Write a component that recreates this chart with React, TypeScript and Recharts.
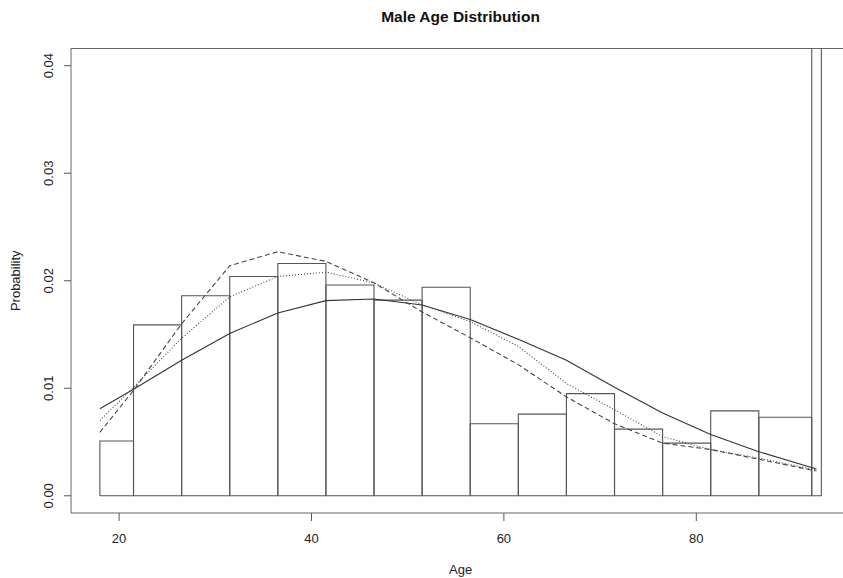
import React from 'react';
import { LineChart, Line, XAxis, YAxis, ReferenceArea, Label } from 'recharts';

// Histogram bins (Age) and densities
const binEdges = [18, 21.5, 26.5, 31.5, 36.5, 41.5, 46.5, 51.5, 56.5, 61.5, 66.5, 71.5, 76.5, 81.5, 86.5, 92, 93];
const binDensity = [0.0051, 0.0159, 0.0186, 0.0204, 0.0216, 0.0196, 0.0182, 0.0194, 0.0067, 0.0076, 0.0095, 0.0062, 0.0049, 0.0079, 0.0073, 0.08];

// Fitted density curves
const curveAges = [18, 21.5, 26.5, 31.5, 36.5, 41.5, 46.5, 51.5, 56.5, 61.5, 66.5, 71.5, 76.5, 81.5, 86.5, 92.5];
const solidCurve = [0.0081, 0.0099, 0.0126, 0.0151, 0.0170, 0.01815, 0.0183, 0.01775, 0.0164, 0.01455, 0.0126, 0.0101, 0.0077, 0.0057, 0.0041, 0.0025];
const dottedCurve = [0.0070, 0.0101, 0.01465, 0.0185, 0.0204, 0.0208, 0.0198, 0.01775, 0.0162, 0.0139, 0.01045, 0.0080, 0.0055, 0.0043, 0.0035, 0.0024];
const dashedCurve = [0.0059, 0.0098, 0.0160, 0.0214, 0.0227, 0.0218, 0.0198, 0.0171, 0.0147, 0.0122, 0.0092, 0.0067, 0.0049, 0.0043, 0.0034, 0.0023];

const xTicks = [20, 40, 60, 80];
const yTicks = [0, 0.01, 0.02, 0.03, 0.04];
const xDomain: [number, number] = [15, 96];
const yDomain: [number, number] = [-0.0016, 0.0416];

const FONT = '"Liberation Sans", Arial, Helvetica, sans-serif';

const curveData = curveAges.map((x, i) => ({
  x,
  solid: solidCurve[i],
  dotted: dottedCurve[i],
  dashed: dashedCurve[i],
}));

// each histogram bin as a closed rectangle outline
const barShapes = binDensity.map((d, i) => [
  { x: binEdges[i], y: 0 },
  { x: binEdges[i], y: d },
  { x: binEdges[i + 1], y: d },
  { x: binEdges[i + 1], y: 0 },
  { x: binEdges[i], y: 0 },
]);

const XTick = (props: any) => {
  const { x, y, payload } = props;
  return (
    <text x={x} y={y} dy={20} textAnchor="middle" fontSize={13} fill="#222" fontFamily={FONT}>
      {payload.value}
    </text>
  );
};

const YTick = (props: any) => {
  const { x, y, payload } = props;
  return (
    <text
      x={x}
      y={y}
      transform={`rotate(-90, ${x}, ${y})`}
      textAnchor="middle"
      fontSize={13}
      fill="#222"
      fontFamily={FONT}
    >
      {Number(payload.value).toFixed(2)}
    </text>
  );
};

export default function App() {
  return (
    <div
      style={{
        position: 'fixed',
        left: 0,
        top: 0,
        width: 843,
        height: 578,
        overflow: 'hidden',
        background: '#fff',
      }}
    >
      <div
        style={{
          position: 'absolute',
          left: 71,
          top: 9,
          width: 779,
          textAlign: 'center',
          fontFamily: FONT,
          fontWeight: 'bold',
          fontSize: 15.5,
          lineHeight: '16px',
          color: '#111',
        }}
      >
        Male Age Distribution
      </div>
      <LineChart
        width={870}
        height={578}
        data={curveData}
        margin={{ top: 48.5, right: 19.8, bottom: 0, left: 0 }}
      >
        <XAxis
          type="number"
          dataKey="x"
          domain={xDomain}
          allowDataOverflow
          ticks={xTicks}
          interval={0}
          height={65}
          tickSize={8}
          tickMargin={2}
          axisLine={false}
          tickLine={{ stroke: '#555' }}
          tick={XTick}
        >
          <Label
            value="Age"
            position="insideBottom"
            offset={3.7}
            style={{ fontSize: 13, fill: '#222', fontFamily: FONT }}
          />
        </XAxis>
        <YAxis
          type="number"
          domain={yDomain}
          allowDataOverflow
          ticks={yTicks}
          interval={0}
          width={71}
          tickSize={7}
          tickMargin={11}
          axisLine={false}
          tickLine={{ stroke: '#555' }}
          tick={YTick}
        >
          <Label
            value="Probability"
            angle={-90}
            position="insideLeft"
            offset={15}
            style={{ fontSize: 13, fill: '#222', fontFamily: FONT, textAnchor: 'middle' }}
          />
        </YAxis>
        <ReferenceArea
          x1={xDomain[0]}
          x2={xDomain[1]}
          y1={yDomain[0]}
          y2={yDomain[1]}
          fill="none"
          fillOpacity={0}
          stroke="#666"
          strokeWidth={1}
          ifOverflow="visible"
        />
        {barShapes.map((d, i) => (
          <Line
            key={`bar-${i}`}
            data={d}
            dataKey="y"
            type="linear"
            stroke="#555"
            strokeWidth={1.1}
            dot={false}
            activeDot={false}
            isAnimationActive={false}
            legendType="none"
          />
        ))}
        <Line
          dataKey="solid"
          type="linear"
          stroke="#333"
          strokeWidth={1.1}
          dot={false}
          activeDot={false}
          isAnimationActive={false}
        />
        <Line
          dataKey="dotted"
          type="linear"
          stroke="#444"
          strokeWidth={1.1}
          strokeDasharray="1 2"
          dot={false}
          activeDot={false}
          isAnimationActive={false}
        />
        <Line
          dataKey="dashed"
          type="linear"
          stroke="#444"
          strokeWidth={1.1}
          strokeDasharray="5 3"
          dot={false}
          activeDot={false}
          isAnimationActive={false}
        />
      </LineChart>
    </div>
  );
}
